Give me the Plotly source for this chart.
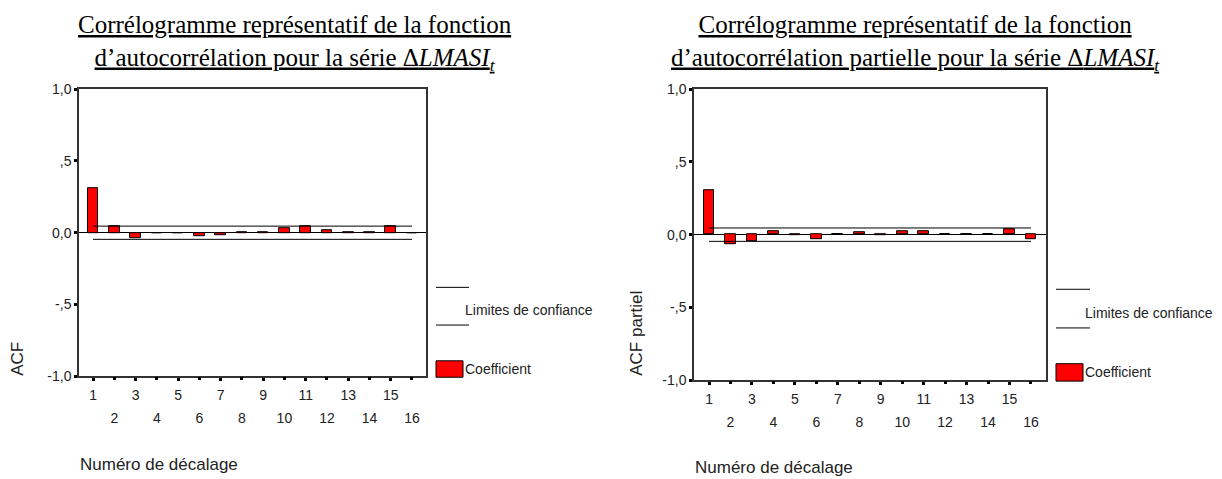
import plotly.graph_objects as go

W, H = 1222, 479

lags = list(range(1, 17))
acf_vals = [0.31, 0.045, -0.038, 0.0, 0.0, -0.025, -0.018, 0.005,
            0.005, 0.029, 0.045, 0.02, 0.005, 0.005, 0.045, 0.0]
pacf_vals = [0.307, -0.067, -0.047, 0.022, -0.005, -0.030, 0.005, 0.015,
             -0.005, 0.022, 0.022, 0.0, 0.005, 0.005, 0.038, -0.030]
acf_conf = 0.046
pacf_conf = 0.046

y_tickvals = [1.0, 0.5, 0.0, -0.5, -1.0]
y_ticktext = ["1,0", ",5", "0,0", "-,5", "-1,0"]
odd_lags = [l for l in lags if l % 2 == 1]
even_lags = [l for l in lags if l % 2 == 0]

title_left = ("<u>Corrélogramme représentatif de la fonction</u><br>"
              "<u>d’autocorrélation pour la série Δ<i>LMASI<sub>t</sub></i></u>")
title_right = ("<u>Corrélogramme représentatif de la fonction</u><br>"
               "<u>d’autocorrélation partielle pour la série Δ<i>LMASI<sub>t</sub></i></u>")

SANS = "Liberation Sans, Arial, sans-serif"
SERIF = "Liberation Serif, Times New Roman, serif"


def px_x(p):
    return p / W


def px_y(p):
    return 1 - p / H


fig = go.Figure()

panels = [
    dict(vals=acf_vals, conf=acf_conf, xa="x", ya="y", xa_even="x3"),
    dict(vals=pacf_vals, conf=pacf_conf, xa="x2", ya="y2", xa_even="x4"),
]

for p in panels:
    fig.add_trace(go.Bar(
        x=lags, y=p["vals"], xaxis=p["xa"], yaxis=p["ya"], width=0.5,
        marker=dict(color="#FF0000", line=dict(color="black", width=1)),
        showlegend=False, hoverinfo="x+y"))
    for c in (p["conf"], -p["conf"]):
        fig.add_trace(go.Scatter(
            x=[lags[0], lags[-1]], y=[c, c], mode="lines",
            xaxis=p["xa"], yaxis=p["ya"],
            line=dict(color="black", width=1), showlegend=False))
    fig.add_trace(go.Scatter(x=[], y=[], xaxis=p["xa_even"], yaxis=p["ya"],
                             showlegend=False))

tickfont = dict(family=SANS, size=14, color="#222")

common_y = dict(range=[-1, 1], tickvals=y_tickvals, ticktext=y_ticktext,
                ticks="outside", ticklen=3, tickwidth=3, tickcolor="black",
                showline=True, linecolor="#333", linewidth=1.5, mirror=True,
                showgrid=False, zeroline=True, zerolinecolor="black",
                zerolinewidth=1, tickfont=tickfont, fixedrange=True)

common_x = dict(tickvals=odd_lags, ticktext=[str(l) for l in odd_lags],
                ticks="outside", ticklen=3, tickwidth=3, tickcolor="black",
                showline=True, linecolor="#333", linewidth=1.5, mirror=True,
                showgrid=False, zeroline=False, tickfont=tickfont,
                ticklabelstandoff=2)

even_x = dict(tickvals=even_lags, ticktext=[str(l) for l in even_lags],
              ticks="outside", ticklen=3, tickwidth=3, tickcolor="black",
              showline=False, showgrid=False, zeroline=False,
              tickfont=tickfont, ticklabelstandoff=26, side="bottom")

left_xr = [0.34, 16.66]
right_xr = [0.30, 16.70]

fig.update_layout(
    width=W, height=H,
    margin=dict(l=0, r=0, t=0, b=0),
    paper_bgcolor="white", plot_bgcolor="white",
    bargap=0,
    xaxis=dict(domain=[px_x(79), px_x(426)], anchor="y", range=left_xr, **common_x),
    yaxis=dict(domain=[px_y(381), px_y(84)], anchor="x", **common_y),
    xaxis2=dict(domain=[px_x(694), px_x(1046)], anchor="y2", range=right_xr, **common_x),
    yaxis2=dict(domain=[px_y(385), px_y(84)], anchor="x2", **common_y),
    xaxis3=dict(overlaying="x", anchor="y", range=left_xr, **even_x),
    xaxis4=dict(overlaying="x2", anchor="y2", range=right_xr, **even_x),
)

annotations = []
shapes = []

# Titles
for cx, txt in ((295, title_left), (915, title_right)):
    annotations.append(dict(
        x=px_x(cx), y=px_y(1), xref="paper", yref="paper",
        xanchor="center", yanchor="top", text=txt, showarrow=False,
        align="center", font=dict(family=SERIF, size=25, color="black")))

# Axis titles
axis_font = dict(family=SANS, size=17, color="#222")
for (x0, yc) in ((78, 472), (693, 475)):
    annotations.append(dict(
        x=px_x(x0), y=px_y(yc), xref="paper", yref="paper",
        xanchor="left", yanchor="middle", text="Numéro de décalage",
        showarrow=False, font=axis_font))
for (xc, yc, t) in ((18, 363, "ACF"), (637, 337, "ACF partiel")):
    annotations.append(dict(
        x=px_x(xc), y=px_y(yc), xref="paper", yref="paper",
        xanchor="center", yanchor="middle", text=t, textangle=-90,
        showarrow=False, font=axis_font))

# Legends
leg_font = dict(family=SANS, size=14, color="#222")
for (lx0, lx1, l1, ty, l2, rx1, r0, r1, cy) in (
        (436, 469, 289, 312, 328, 463, 365, 382, 373),
        (1056, 1090, 291, 316, 331, 1083, 368, 386, 377)):
    for ly in (l1, l2):
        shapes.append(dict(type="line", xref="paper", yref="paper",
                           x0=px_x(lx0), x1=px_x(lx1), y0=px_y(ly), y1=px_y(ly),
                           line=dict(color="black", width=1)))
    shapes.append(dict(type="rect", xref="paper", yref="paper",
                       x0=px_x(lx0), x1=px_x(rx1), y0=px_y(r1), y1=px_y(r0),
                       fillcolor="#FF0000", line=dict(color="black", width=1)))
    annotations.append(dict(x=px_x(rx1), y=px_y(ty), xref="paper", yref="paper",
                            xanchor="left", yanchor="middle",
                            text="Limites de confiance", showarrow=False,
                            font=leg_font))
    annotations.append(dict(x=px_x(rx1), y=px_y(cy), xref="paper", yref="paper",
                            xanchor="left", yanchor="middle", text="Coefficient",
                            showarrow=False, font=leg_font))

fig.update_layout(annotations=annotations, shapes=shapes)

fig.write_html("out.html")
